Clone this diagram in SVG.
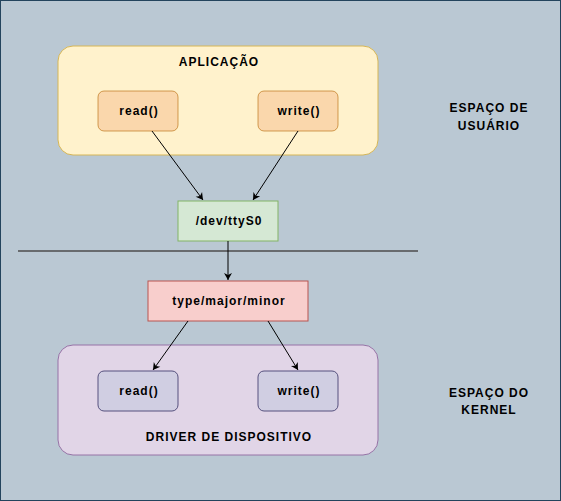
<svg xmlns="http://www.w3.org/2000/svg" width="561" height="501" viewBox="0 0 561 501">
<defs>
<style>
text{font-family:"Liberation Sans",Arial,sans-serif;font-size:12px;font-weight:bold;fill:#000;text-anchor:middle;letter-spacing:1px}
.c{stroke:#000;stroke-width:1;fill:none}
</style>
<marker id="ah" markerWidth="10" markerHeight="10" refX="8" refY="5" orient="auto" markerUnits="userSpaceOnUse"><path d="M1,1 L8,5 L1,9 L3,5 Z" fill="#000"/></marker>
</defs>
<rect x="0.5" y="0.5" width="560" height="500" fill="#bac8d3" stroke="#23445d"/>
<g id="aplicacao"><rect x="58" y="46" width="320" height="109" rx="15" fill="#fff2cc" stroke="#d6b656"/><text x="219" y="66">APLICAÇÃO</text></g>
<g id="app-read"><rect x="98" y="91" width="80" height="40" rx="6" fill="#fad7ac" stroke="#b46504" stroke-opacity="0.6"/><text x="139" y="115">read()</text></g>
<g id="app-write"><rect x="258" y="91" width="80" height="40" rx="6" fill="#fad7ac" stroke="#b46504" stroke-opacity="0.6"/><text x="299" y="115">write()</text></g>
<g id="tty"><rect x="178" y="201" width="100" height="40" fill="#d5e8d4" stroke="#82b366"/><text x="229" y="225">/dev/ttyS0</text></g>
<g id="tmm"><rect x="148" y="281" width="160" height="40" fill="#f8cecc" stroke="#b85450"/><text x="229" y="305">type/major/minor</text></g>
<g id="driver"><rect x="58" y="345" width="320" height="110" rx="15" fill="#e1d5e7" stroke="#9673a6"/><text x="229" y="441">DRIVER DE DISPOSITIVO</text></g>
<g id="drv-read"><rect x="98" y="371" width="80" height="40" rx="6" fill="#d0cee2" stroke="#56517e"/><text x="139" y="395">read()</text></g>
<g id="drv-write"><rect x="258" y="371" width="80" height="40" rx="6" fill="#d0cee2" stroke="#56517e"/><text x="299" y="395">write()</text></g>
<g id="user-label"><text x="489" y="112">ESPAÇO DE</text><text x="489" y="130">USUÁRIO</text></g>
<g id="kernel-label"><text x="489" y="397">ESPAÇO DO</text><text x="489" y="414">KERNEL</text></g>
<line x1="18" y1="251" x2="418" y2="251" stroke="#4d4d4d" stroke-width="1.5"/>
<g id="connectors">
<line class="c" x1="152" y1="131" x2="203" y2="200" marker-end="url(#ah)"/>
<line class="c" x1="298" y1="131" x2="253" y2="200" marker-end="url(#ah)"/>
<line class="c" x1="228" y1="241" x2="228" y2="280" marker-end="url(#ah)"/>
<line class="c" x1="188" y1="321" x2="153" y2="370" marker-end="url(#ah)"/>
<line class="c" x1="268" y1="321" x2="298" y2="370" marker-end="url(#ah)"/>
</g>
</svg>
